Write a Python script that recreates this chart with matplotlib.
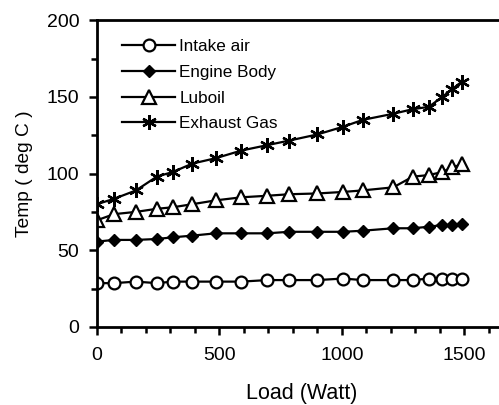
import matplotlib
matplotlib.use("Agg")
import matplotlib.pyplot as plt
from matplotlib.ticker import MultipleLocator

plt.rcParams["font.family"] = ["Liberation Sans", "DejaVu Sans"]

load = [0, 70, 160, 245, 310, 390, 485, 590, 695, 785, 900, 1005, 1085, 1210, 1290, 1355, 1410, 1450, 1490]
intake_air = [28.5, 28.5, 29.5, 28.5, 29.5, 29.5, 29.5, 29.5, 30.5, 30.5, 30.5, 31.5, 30.5, 30.5, 30.5, 31.5, 31.5, 31.5, 31.5]
engine_body = [55.6, 56.7, 56.7, 57.3, 58.4, 59.5, 61, 61, 61, 62, 62, 62, 62.7, 64.3, 64.3, 65.3, 66.4, 66.4, 67.1]
luboil = [69.5, 73.5, 75, 77, 78, 80, 82.5, 84.5, 85.5, 86.5, 87, 88, 89, 91, 98, 99, 101, 104, 106]
exhaust_gas = [80, 83.5, 89, 98, 101, 106.5, 110, 115, 118.5, 121.5, 125.5, 130.5, 135, 139, 142, 143.5, 150, 155, 160]

fig = plt.figure(figsize=(4.99, 4.05), dpi=100)
ax = fig.add_axes([0.194, 0.193, 0.82, 0.757])

lw = 1.6
ax.plot(load, intake_air, "k-", marker="o", mfc="white", mec="k", ms=8.5, mew=1.6, lw=lw, label="Intake air")
ax.plot(load, engine_body, "k-", marker="D", mfc="k", ms=6, lw=lw, label="Engine Body")
ax.plot(load, luboil, "k-", marker="^", mfc="white", mec="k", ms=9.5, mew=1.6, lw=lw, label="Luboil")
ax.plot(load, exhaust_gas, "k-", marker=(6, 2, 0), ms=10.5, mew=1.7, lw=lw, label="Exhaust Gas")

ax.set_xlim(0, 1670)
ax.set_ylim(0, 200)
ax.xaxis.set_major_locator(MultipleLocator(500))
ax.xaxis.set_minor_locator(MultipleLocator(100))
ax.yaxis.set_major_locator(MultipleLocator(50))
ax.yaxis.set_minor_locator(MultipleLocator(25))
ax.tick_params(which="both", direction="out", width=1.8, labelsize=14, colors="k")
ax.tick_params(axis="y", pad=7)
ax.tick_params(axis="x", pad=9)
ax.tick_params(which="major", length=5.5)
ax.tick_params(which="minor", length=4)
for side in ["left", "bottom", "top"]:
    ax.spines[side].set_linewidth(2.0)
ax.spines["right"].set_visible(False)

ax.set_xlabel("Load (Watt)", fontsize=15.5)
ax.set_ylabel("Temp ( deg C )", fontsize=13.8)
ax.xaxis.set_label_coords(0.5, -0.182)
ax.yaxis.set_label_coords(-0.156, 0.5)

ax.legend(loc="upper left", bbox_to_anchor=(0.062, 0.94), frameon=False, fontsize=12.3,
          handlelength=3.1, handletextpad=0.25, labelspacing=0.64,
          borderaxespad=0, borderpad=0)

fig.savefig("out.png", dpi=100)
